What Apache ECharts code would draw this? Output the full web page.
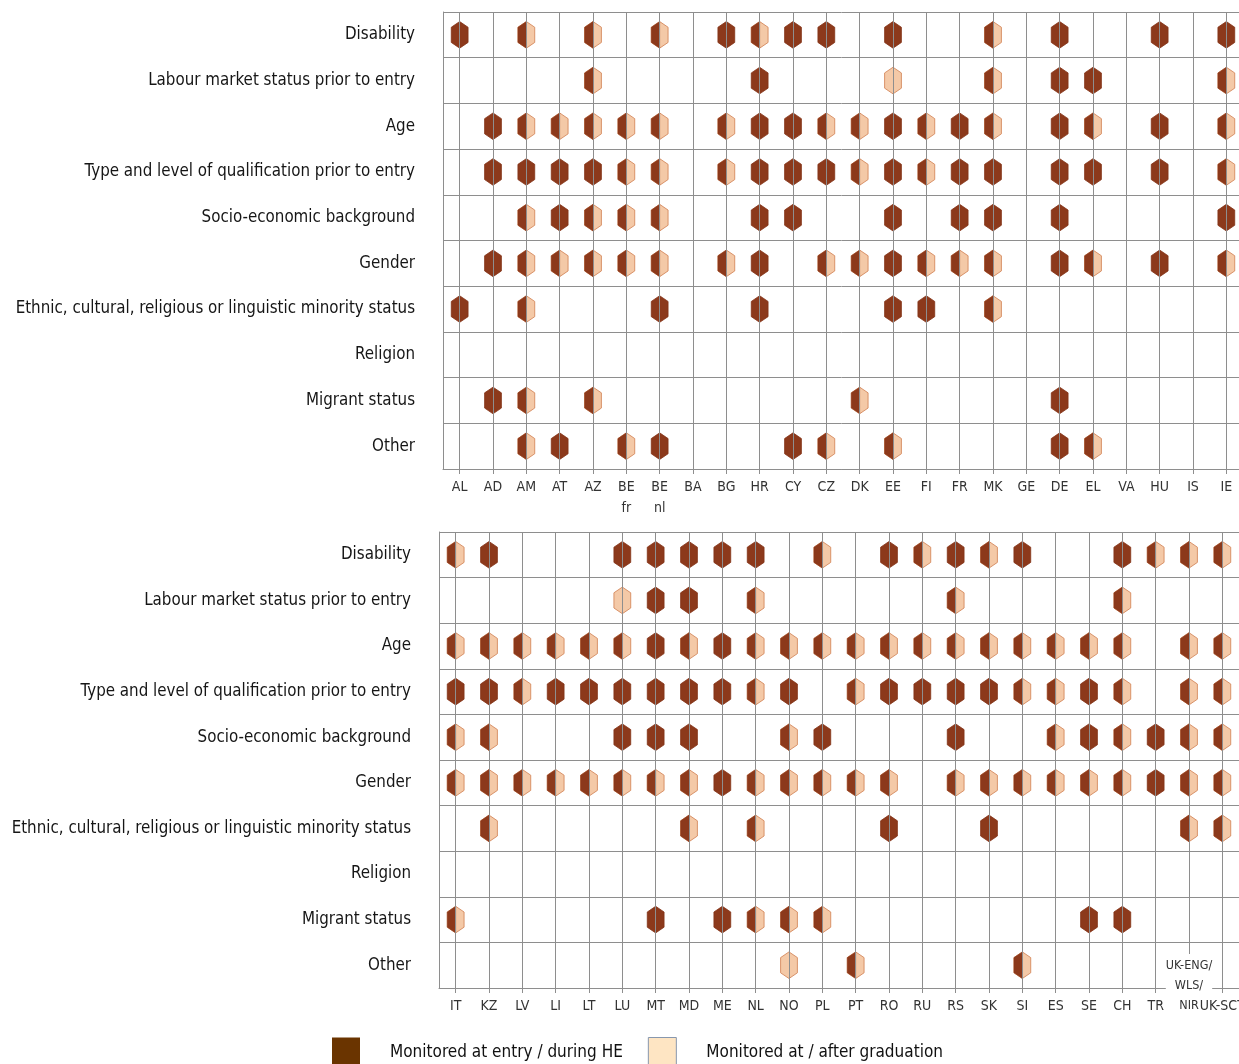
<!DOCTYPE html>
<html>
<head>
<meta charset="utf-8">
<script src="https://cdn.jsdelivr.net/npm/echarts@6/dist/echarts.min.js"></script>
<style>
html,body{margin:0;padding:0;background:#fff;}
#chart{width:1239px;height:1064px;}
</style>
</head>
<body>
<div id="chart"></div>
<script>
// ---------- DATA ----------
// status codes: 0 = not monitored, 1 = at entry / during HE, 2 = at / after graduation, 3 = both
const CRITERIA = ['Disability','Labour market status prior to entry','Age','Type and level of qualification prior to entry','Socio-economic background','Gender','Ethnic, cultural, religious or linguistic minority status','Religion','Migrant status','Other'];

const TOP_COUNTRIES = ['AL','AD','AM','AT','AZ','BE\nfr','BE\nnl','BA','BG','HR','CY','CZ','DK','EE','FI','FR','MK','GE','DE','EL','VA','HU','IS','IE'];
const topDisability    = [1,0,3,0,3,0,3,0,1,3,1,1, 0,1,0,0,3,0,1,0,0,1,0,1];
const topLabour        = [0,0,0,0,3,0,0,0,0,1,0,0, 0,2,0,0,3,0,1,1,0,0,0,3];
const topAge           = [0,1,3,3,3,3,3,0,3,1,1,3, 3,1,3,1,3,0,1,3,0,1,0,3];
const topQualification = [0,1,1,1,1,3,3,0,3,1,1,1, 3,1,3,1,1,0,1,1,0,1,0,3];
const topSocio         = [0,0,3,1,3,3,3,0,0,1,1,0, 0,1,0,1,1,0,1,0,0,0,0,1];
const topGender        = [0,1,3,3,3,3,3,0,3,1,0,3, 3,1,3,3,3,0,1,3,0,1,0,3];
const topEthnic        = [1,0,3,0,0,0,1,0,0,1,0,0, 0,1,1,0,3,0,0,0,0,0,0,0];
const topReligion      = [0,0,0,0,0,0,0,0,0,0,0,0, 0,0,0,0,0,0,0,0,0,0,0,0];
const topMigrant       = [0,1,3,0,3,0,0,0,0,0,0,0, 3,0,0,0,0,0,1,0,0,0,0,0];
const topOther         = [0,0,3,1,0,3,1,0,0,0,1,3, 0,3,0,0,0,0,1,3,0,0,0,0];

const BOTTOM_COUNTRIES = ['IT','KZ','LV','LI','LT','LU','MT','MD','ME','NL','NO','PL','PT','RO','RU','RS','SK','SI','ES','SE','CH','TR','UK-ENG/\nWLS/\nNIR','UK-SCT'];
const botDisability    = [3,1,0,0,0,1,1,1,1,1,0,3, 0,1,3,1,3,1,0,0,1,3,3,3];
const botLabour        = [0,0,0,0,0,2,1,1,0,3,0,0, 0,0,0,3,0,0,0,0,3,0,0,0];
const botAge           = [3,3,3,3,3,3,1,3,1,3,3,3, 3,3,3,3,3,3,3,3,3,0,3,3];
const botQualification = [1,1,3,1,1,1,1,1,1,3,1,0, 3,1,1,1,1,3,3,1,3,0,3,3];
const botSocio         = [3,3,0,0,0,1,1,1,0,0,3,1, 0,0,0,1,0,0,3,1,3,1,3,3];
const botGender        = [3,3,3,3,3,3,3,3,1,3,3,3, 3,3,0,3,3,3,3,3,3,1,3,3];
const botEthnic        = [0,3,0,0,0,0,0,3,0,3,0,0, 0,1,0,0,1,0,0,0,0,0,3,3];
const botReligion      = [0,0,0,0,0,0,0,0,0,0,0,0, 0,0,0,0,0,0,0,0,0,0,0,0];
const botMigrant       = [3,0,0,0,0,0,1,0,1,3,3,3, 0,0,0,0,0,0,0,1,1,0,0,0];
const botOther         = [0,0,0,0,0,0,0,0,0,0,2,0, 3,0,0,0,0,3,0,0,0,0,0,0];

const LEGEND_NAMES = ['Monitored at entry / during HE','Monitored at / after graduation'];

// ---------- STYLE ----------
const DARK = '#8c391b', DARK_EDGE = '#843418';
const LIGHT = '#f4c9a7', LIGHT_EDGE = '#d5895d';
const GRID_LINE = '#8e8e8e';

function hasFont(name){
  const c = document.createElement('canvas').getContext('2d');
  const t = 'abcdefghijklmnopqrstuvwxyz ABCDEFGHIJKLM 0123';
  let res = false;
  ['monospace','serif'].forEach(function(g){
    c.font = '72px ' + g; const a = c.measureText(t).width;
    c.font = '72px "' + name + '", ' + g; const b = c.measureText(t).width;
    if (Math.abs(a - b) > 0.5) res = true;
  });
  return res;
}
const FAMILY = ['Liberation Sans Narrow','Arial Narrow','Nimbus Sans Narrow','DejaVu Sans Condensed','Liberation Sans'].find(hasFont) || 'sans-serif';
function fitSize(text, targetW, maxSize){
  const c = document.createElement('canvas').getContext('2d');
  c.font = '100px "' + FAMILY + '"';
  const w = c.measureText(text).width;
  return Math.min(maxSize, targetW * 100 / w);
}
const Y_SIZE = fitSize('Labour market status prior to entry', 267, 21);
const LEG_SIZE = fitSize('Monitored at entry / during HE', 233, 21);
const X_SIZE = fitSize('AM', 21, 14);
const UK_SIZE = fitSize('UK-ENG/', 48, 12.5);

function cells(rows){
  const out = [];
  rows.forEach(function(arr, r){
    arr.forEach(function(v, c){ if (v) out.push([c, r, v]); });
  });
  return out;
}
const topCells = cells([topDisability, topLabour, topAge, topQualification, topSocio, topGender, topEthnic, topReligion, topMigrant, topOther]);
const botCells = cells([botDisability, botLabour, botAge, botQualification, botSocio, botGender, botEthnic, botReligion, botMigrant, botOther]);

function renderHex(params, api){
  const p = api.coord([api.value(0), api.value(1)]);
  const s = api.value(2);
  const cx = p[0], cy = p[1];
  const hw = 8.4, hh = 13.3, sh = 7.6;
  const full = [[cx, cy - hh],[cx + hw, cy - sh],[cx + hw, cy + sh],[cx, cy + hh],[cx - hw, cy + sh],[cx - hw, cy - sh]];
  const left = [[cx, cy - hh],[cx, cy + hh],[cx - hw, cy + sh],[cx - hw, cy - sh]];
  if (s === 1) {
    return {type:'polygon', shape:{points: full}, style:{fill: DARK, stroke: DARK_EDGE, lineWidth: 0.8}};
  }
  if (s === 2) {
    return {type:'polygon', shape:{points: full}, style:{fill: LIGHT, stroke: LIGHT_EDGE, lineWidth: 0.9}};
  }
  return {type:'group', children:[
    {type:'polygon', shape:{points: full}, style:{fill: LIGHT, stroke: LIGHT_EDGE, lineWidth: 0.9}},
    {type:'polygon', shape:{points: left}, style:{fill: DARK, stroke: DARK, lineWidth: 0.4}}
  ]};
}

function xAxisFor(gi, cats, lineH){
  return {
    type:'category', gridIndex: gi, data: cats, boundaryGap: true, z: 10,
    axisLine:{show:true, lineStyle:{color: GRID_LINE, width: 1}},
    axisTick:{show:true, alignWithLabel:true, length:5, lineStyle:{color: GRID_LINE}},
    axisLabel:{interval:0, margin:8, color:'#333333', fontFamily: FAMILY, fontSize: X_SIZE, lineHeight: lineH, hideOverlap: false},
    splitLine:{show:false}
  };
}
function yAxisFor(gi){
  return {
    type:'category', gridIndex: gi, data: CRITERIA, inverse: true, boundaryGap: true,
    axisLine:{show:true, lineStyle:{color: GRID_LINE, width: 1}},
    axisTick:{show:false},
    axisLabel:{margin:28, color:'#161616', fontFamily: FAMILY, fontSize: Y_SIZE},
    splitLine:{show:true, lineStyle:{color: GRID_LINE, width: 1}}
  };
}
function vLines(gi, n){
  const d = [];
  for (let i = 0; i < n; i++) d.push({xAxis: i});
  return {
    type:'scatter', xAxisIndex: gi, yAxisIndex: gi, data: [], z: 1, silent: true,
    markLine:{symbol:['none','none'], silent:true, animation:false, label:{show:false},
      lineStyle:{color: GRID_LINE, width: 1, type:'solid'}, emphasis:{disabled:true}, data: d}
  };
}

const bottomCats = BOTTOM_COUNTRIES.map(function(c){
  if (c.indexOf('UK-ENG') === 0) {
    return {value: c + '\n', textStyle:{verticalAlign:'middle', fontSize: UK_SIZE, backgroundColor:'#ffffff', padding:[4,0,0,0]}};
  }
  return c;
});

const option = {
  animation: false,
  backgroundColor: '#ffffff',
  grid: [
    {left: 443, top: 12, width: 800, height: 457, containLabel: false, outerBoundsMode: 'none'},
    {left: 439, top: 532, width: 800, height: 456, containLabel: false, outerBoundsMode: 'none'}
  ],
  xAxis: [xAxisFor(0, TOP_COUNTRIES, 21), xAxisFor(1, bottomCats, 20)],
  yAxis: [yAxisFor(0), yAxisFor(1)],
  legend: {
    left: 332, top: 1037, padding: 0, orient:'horizontal', icon:'rect', itemWidth: 28, itemHeight: 30, itemGap: 25,
    selectedMode: false,
    textStyle:{fontFamily: FAMILY, fontSize: LEG_SIZE, color:'#111', padding:[0,0,0,25]},
    data: [
      {name: LEGEND_NAMES[0], itemStyle:{color:'#6a3400', borderWidth:0, opacity:1}},
      {name: LEGEND_NAMES[1], itemStyle:{color:'#fee5c3', borderColor:'#8797ae', borderWidth:1, opacity:1}}
    ]
  },
  series: [
    vLines(0, TOP_COUNTRIES.length),
    vLines(1, BOTTOM_COUNTRIES.length),
    {type:'custom', xAxisIndex:0, yAxisIndex:0, z: 3, renderItem: renderHex, data: topCells, silent: true},
    {type:'custom', xAxisIndex:1, yAxisIndex:1, z: 3, renderItem: renderHex, data: botCells, silent: true},
    {type:'scatter', name: LEGEND_NAMES[0], xAxisIndex:0, yAxisIndex:0, data: [], itemStyle:{color:'#6a3400', opacity:1}},
    {type:'scatter', name: LEGEND_NAMES[1], xAxisIndex:0, yAxisIndex:0, data: [], itemStyle:{color:'#fee5c3', borderColor:'#8797ae', borderWidth:1, opacity:1}}
  ]
};

const chart = echarts.init(document.getElementById('chart'), null, {renderer:'canvas'});
chart.setOption(option);
</script>
</body>
</html>
